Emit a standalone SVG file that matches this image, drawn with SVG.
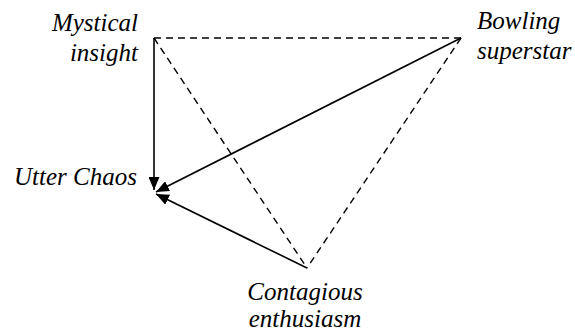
<svg xmlns="http://www.w3.org/2000/svg" width="575" height="333" viewBox="0 0 575 333">
<style>
text{font-style:italic;font-size:25px;fill:#000}
.s{stroke:#000;stroke-width:1.6;fill:none}
.d{stroke:#000;stroke-width:1.4;fill:none;stroke-dasharray:7,5}
</style>
<defs>
<marker id="ah" viewBox="0 0 13 11" refX="13" refY="5.5" markerWidth="13" markerHeight="11" markerUnits="userSpaceOnUse" orient="auto">
<path d="M0,0 L13,5.5 L0,11 Z" fill="#000"/>
</marker>
</defs>
<rect width="575" height="333" fill="#fff"/>
<g id="connectors">
<line class="d" x1="154" y1="38" x2="461" y2="38"/>
<line class="d" x1="154" y1="38" x2="307" y2="268"/>
<line class="d" x1="461" y1="38" x2="307" y2="268"/>
<line class="s" x1="154" y1="38" x2="154" y2="190" marker-end="url(#ah)"/>
<line class="s" x1="461" y1="38" x2="156" y2="192" marker-end="url(#ah)"/>
<line class="s" x1="307" y1="268" x2="156" y2="194" marker-end="url(#ah)"/>
</g>
<g font-family="Liberation Serif, DejaVu Serif, serif">
<g id="mystical"><text x="138" y="31" text-anchor="end">Mystical</text><text x="138" y="61" text-anchor="end">insight</text></g>
<g id="bowling"><text x="477" y="29">Bowling</text><text x="477" y="59">superstar</text></g>
<g id="chaos"><text x="137" y="185" text-anchor="end">Utter Chaos</text></g>
<g id="contagious"><text x="305" y="300" text-anchor="middle">Contagious</text><text x="305" y="327" text-anchor="middle">enthusiasm</text></g>
</g>
</svg>
